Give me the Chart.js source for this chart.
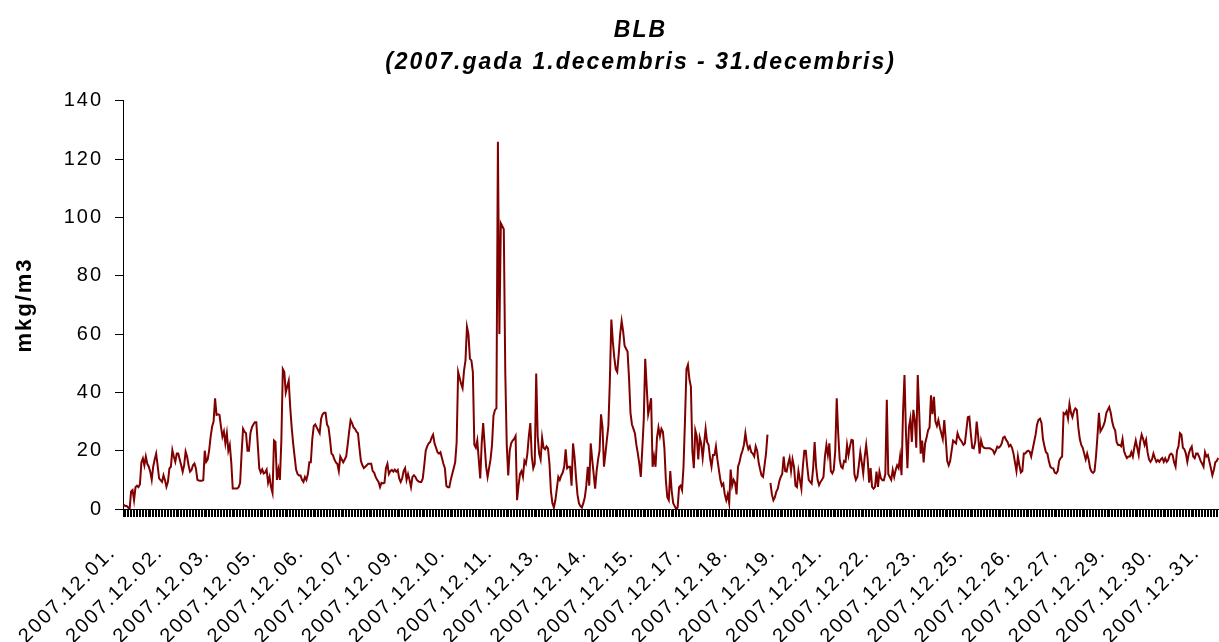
<!DOCTYPE html>
<html><head><meta charset="utf-8">
<script src="https://cdn.jsdelivr.net/npm/chart.js@4.4.1/dist/chart.umd.min.js"></script>
<style>html,body{margin:0;padding:0;background:#fff;overflow:hidden}#wrap{width:1219px;height:642px}</style>
</head><body><div id="wrap"><canvas id="c" width="1219" height="642"></canvas></div>
<script>
const titleLines = ['BLB', '(2007.gada 1.decembris - 31.decembris)'];
const yTitle = 'mkg/m3';
const yMin = 0, yMax = 140, yStep = 20;
const labelStep = 32;
const dayNames = ['01','02','03','04','05','06','07','08','09','10','11','12','13','14','15','16','17','18','19','20','21','22','23','24','25','26','27','28','29','30','31'];

const day01 = [1.5,1,1,0.5,0,6,6.5,3,7.5,8,7.5,8.5,16,17.4,15,18,15.5,14.5,12.8,10,14.5,17,19,15];
const day02 = [10.5,9.9,9.3,11.6,9.9,7.6,9.3,13.9,14.5,20.2,18,16.2,19,19,17,15,12.8,15,19.7,18,15,12.8,13.4,15];
const day03 = [15.6,13.9,10,9.8,9.7,9.7,9.9,20,16.2,17,20.2,24.8,28.3,30,38,32.3,32.5,32.3,28.3,24.8,26.6,22.5,26,20];
const day04 = [22,16,7,7,7,7,7.5,9,19,27.5,26.5,26,20,20,26,28,29,29.8,29.8,22,14,12.5,13.6,12.2];
const day05 = [12.5,13.5,9,11,7.5,5.5,23.5,23,10,13.5,10,23.5,48,47,40,42,44,35,28,22.5,18,13.5,12,11.5];
const day06 = [11.5,10,9.3,11,10,12,16,16,24,28.5,29,28,27,26,31,32.5,33,33,29,28,24,19,18.5,17];
const day07 = [16,15.5,13,18,17,16,17,18,22,26.5,30.5,29.5,28,27.5,26.5,26,21,16.5,15,14,14.5,15,15.5,15.5];
const day08 = [15.5,13,12.5,11,10,9.3,7.5,9,8.8,9,14,15.5,12,13,13.4,12.8,13.5,12.8,13.4,10.5,9.3,10.5,13,14];
const day09 = [10,12,10,7.5,11,11.6,11,10,9.5,9.3,9.3,10.5,15,20,21.5,22.5,23,24.5,25.5,22.5,21,19.5,19,19.5];
const day10 = [17.5,15.5,14,8,7.5,7.5,10,12,14,16,23,47,45,43,41.5,47.5,51,62.5,60,51.5,51,47,22,21];
const day11 = [23.5,17,10.5,22.5,29.5,22,14.5,11,14,17,22,32,34,34.5,126,60,98,97,96,47,22,11.5,20,22.5];
const day12 = [23.5,24,25,3,8,12,13,11,16.5,15.5,19,25,29.5,18,14,15.5,46.5,25,19,17,24.5,21,20.5,21.5];
const day13 = [20.8,15.5,6,2,0.5,3,7,11,10,11.5,12.5,14.5,20.5,14,14.5,14.5,8,22.5,18,11,5,2,1,0.5];
const day14 = [2,4,8,14.5,8,22.5,17,12,7,13,17,20,32.5,28,14.5,19,24,28.5,44,65,57.5,52,48,47];
const day15 = [53,60,64.5,61,56,55,54,45,33,29,27.5,26,22,19,15.5,11,20.5,30.5,51.5,42,32.5,35,38,14.5];
const day16 = [18,14.5,24.5,28,25,27.5,26.5,21,10,4,3,13,6,2,1,0,0.5,7.5,8,6.5,14.5,30.5,48,49.5];
const day17 = [44.5,42,20,14,27,25,17,24.5,22.5,17.5,22.5,27.5,23,22,17.5,14.5,18.5,18.5,21.5,17,13.5,10,8,8.7];
const day18 = [5,3,5,2,13.5,8,10,9,5,14.5,16,18.5,20,22,26,22.5,20.5,21.5,19.5,19,18,21.5,20,16];
const day19 = [13.5,11.5,11,15,19,25.5,null,9,5,3,4,6,7,9.5,11,12,18,13,12.8,15.5,17.5,13,17,14.5];
const day20 = [8,7.5,13,10,7,14.5,20,20,14.5,10,9.3,8.7,14,23,14.5,10,8.2,9.3,10,11,18,22,18.5,22.5];
const day21 = [13,12.2,13.4,20,38,26,17,14.5,14,16.5,16.2,22,18.5,21.5,23.7,23.5,12,10,11,15,19.5,16,12.2,18];
const day22 = [22,17,9,14,7.6,7,7.6,12.8,7.6,12.8,10.5,9.9,9.9,12,37.5,12,11,10,13.4,11,13.4,15,14,18];
const day23 = [11.6,33,46,26,14,28,31,23,34,30.5,21,46,33,19,23.5,16,22.5,24.5,27,28,39,32.5,38.5,30];
const day24 = [28.5,30.5,28,26,24,30.5,24,16.5,15,16.5,20,23.5,23,22.5,26,24.5,23.7,23,22,22.5,27,31.5,31.7,26];
const day25 = [21,20.8,23,30,25,19,23.5,21.5,21,20.8,20.8,20.8,20.8,20.5,20.2,19,20,21.4,21,21.5,22.5,24.5,24.8,23.7];
const day26 = [23,21.5,22,21,19,16,13,18,15,12.5,13,19,19,19.7,20,19.7,18,20.5,23,25.5,29,30.6,31,29.5];
const day27 = [24,21.5,19.5,19,16.5,14.5,14,13.9,12.5,12.2,13,16.5,17.5,18,32.9,32.5,33.5,31,36,33,31.5,33.5,34.5,34];
const day28 = [28,24,22,21,19,17,19,17,14,12.8,12.4,13,18,25,33,26.6,27.5,28.5,30,32.9,34,35,33,30];
const day29 = [28,27,23,22,22,21.5,24,20,18.5,17.5,18,18,19.5,18,21,23.5,21,18.5,23,25.5,24,22,23.7,19.5];
const day30 = [17,16.2,17,19,17.5,16.2,16.8,16.2,17,17.5,16.2,17.4,16.2,16.8,18.5,19,18.5,16,14.5,20,21.5,26,25.5,21];
const day31 = [20.5,19,16.2,19,20.5,21.4,18,17.4,19,19,18,16.5,15.6,14.5,19.5,18,18.5,16.2,14,11.6,13.4,16,16.5,17.5];

const dayValues = [day01,day02,day03,day04,day05,day06,day07,day08,day09,day10,day11,day12,day13,day14,day15,day16,day17,day18,day19,day20,day21,day22,day23,day24,day25,day26,day27,day28,day29,day30,day31];

const categories = [];
const values = [];
dayValues.forEach((arr, d) => {
  arr.forEach(v => { categories.push('2007.12.' + dayNames[d] + '.'); values.push(v); });
});

const FONT = "'Liberation Sans', Arial, Helvetica, sans-serif";
const LETTER_SPACING = '2px';
const TITLE_SHIFT = 31;

const spacingPlugin = {
  id: 'spacing',
  afterInit(chart) { chart.ctx.letterSpacing = LETTER_SPACING; },
  beforeUpdate(chart) { chart.ctx.letterSpacing = LETTER_SPACING; },
  beforeLayout(chart) { chart.ctx.letterSpacing = LETTER_SPACING; },
  beforeDraw(chart) { chart.ctx.letterSpacing = LETTER_SPACING; }
};
const titleShift = {
  id: 'titleShift',
  afterLayout(chart) {
    const t = chart.titleBlock;
    if (t) { t.left += TITLE_SHIFT; t.right += TITLE_SHIFT; }
  }
};

new Chart(document.getElementById('c').getContext('2d'), {
  type: 'line',
  data: {
    labels: categories,
    datasets: [{
      data: values,
      borderColor: '#800000',
      borderWidth: 2,
      pointRadius: 0,
      tension: 0,
      spanGaps: false,
      fill: false
    }]
  },
  options: {
    responsive: false,
    animation: false,
    devicePixelRatio: 1,
    layout: { padding: 0 },
    plugins: {
      legend: { display: false },
      tooltip: { enabled: false },
      title: {
        display: true,
        text: titleLines,
        color: '#000',
        font: { family: FONT, size: 23, weight: 'bold', style: 'italic', lineHeight: 1.39 },
        padding: { top: 15, bottom: 22 }
      }
    },
    scales: {
      x: {
        type: 'category',
        offset: true,
        grid: { display: true, drawOnChartArea: false, drawTicks: true, tickLength: 8, color: '#000', lineWidth: 1, offset: true },
        border: { display: true, color: '#000', width: 1 },
        ticks: {
          autoSkip: false, maxRotation: 45, minRotation: 45, color: '#000',
          font: { family: FONT, size: 20 }, padding: 24, labelOffset: -11,
          callback: (v, i) => (i % labelStep === 0 ? categories[i] : '')
        },
        afterFit: s => { s.height = 133; s.paddingLeft = 0; s.paddingRight = 0; }
      },
      y: {
        min: yMin, max: yMax,
        ticks: { stepSize: yStep, color: '#000', font: { family: FONT, size: 20 }, padding: 12 },
        grid: { drawOnChartArea: false, drawTicks: true, tickLength: 8, color: '#000' },
        border: { display: true, color: '#000', width: 1 },
        title: { display: true, text: yTitle, color: '#000', font: { family: FONT, size: 22, weight: 'bold' }, padding: { top: 12, bottom: 0 } },
        afterFit: s => { s.width = 123; }
      }
    }
  },
  plugins: [spacingPlugin, titleShift]
});
</script>
</body></html>
